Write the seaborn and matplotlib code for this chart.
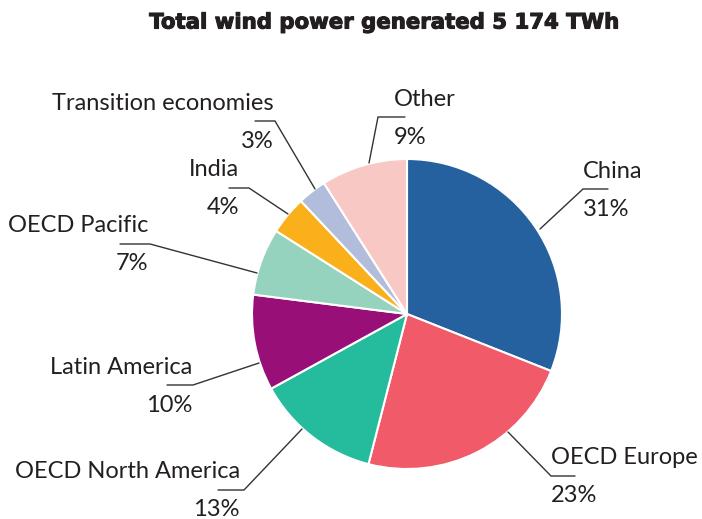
import matplotlib
matplotlib.use("Agg")
import matplotlib.pyplot as plt
import matplotlib.patheffects as pe
import seaborn as sns

# ---- data ----
regions = ["China", "OECD Europe", "OECD North America", "Latin America",
           "OECD Pacific", "India", "Transition economies", "Other"]
shares = [31, 23, 13, 10, 7, 4, 3, 9]
pct_labels = ["31%", "23%", "13%", "10%", "7%", "4%", "3%", "9%"]
colors = ["#25619F", "#F05A69", "#24BC9C", "#990F78",
          "#95D3BF", "#FAB01A", "#B2BDDC", "#F8C9C4"]
title = "Total wind power generated 5 174 TWh"

sns.set_theme(style="white")
plt.rcParams["font.family"] = ["Lato", "DejaVu Sans"]

W, H = 702, 519
fig = plt.figure(figsize=(W / 100, H / 100), dpi=100)
ax = fig.add_axes([0, 0, 1, 1])

def Y(y):
    return H - y

cx, cy, r = 407, 314, 155
ax.pie(shares, colors=colors, startangle=90, counterclock=False,
       center=(cx, Y(cy)), radius=r, frame=True,
       wedgeprops=dict(edgecolor="white", linewidth=1.5))
ax.set_xlim(0, W)
ax.set_ylim(0, H)
ax.set_aspect("equal")
ax.axis("off")

# leader-line layout: anchor on slice, corner, end of horizontal, text side
layout = {
    "China": ((540, 229), (583, 189), (608, 189), "left", 583),
    "OECD Europe": ((508, 432), (551, 476), (575, 476), "left", 551),
    "OECD North America": ((302, 429), (244, 490), (218, 490), "right", 240),
    "Latin America": ((259, 363), (193, 385), (167, 385), "right", 192),
    "OECD Pacific": ((257, 273), (150, 244), (120, 244), "right", 148),
    "India": ((288, 214), (249, 188), (229, 188), "right", 239),
    "Transition economies": ((315, 189), (275, 121), (255, 121), "right", 274),
    "Other": ((369, 163), (378, 117), (405, 117), "left", 394),
}

txt_color = "#231F20"
fs = 17
for name, pct in zip(regions, pct_labels):
    a, c, e, ha, tx = layout[name]
    ax.plot([a[0], c[0], e[0]], [Y(a[1]), Y(c[1]), Y(e[1])],
            color="#333333", lw=1.0, solid_joinstyle="miter")
    ax.text(tx, Y(c[1] - 18), name, ha=ha, va="center", fontsize=fs,
            color=txt_color)
    ax.text(tx, Y(c[1] + 20), pct, ha=ha, va="center", fontsize=fs,
            color=txt_color)

ax.text(384, Y(22.5), title, ha="center", va="center", fontsize=15.3,
        fontweight="bold", color=txt_color, family=["DejaVu Sans"],
        path_effects=[pe.withStroke(linewidth=0.8, foreground=txt_color)])

fig.savefig("out.png", dpi=100)
